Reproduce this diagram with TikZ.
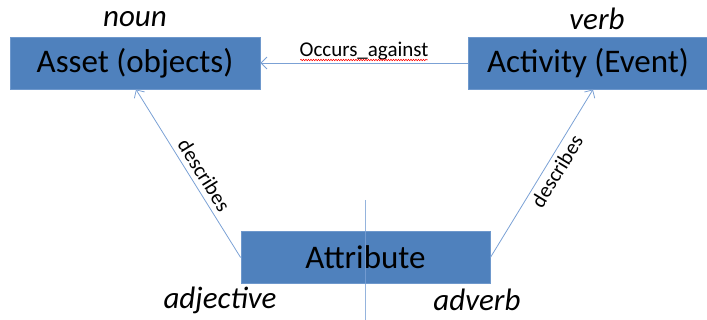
\documentclass[tikz,border=0pt]{standalone}
\usepackage{fontspec}
\setmainfont{Carlito}
\usetikzlibrary{arrows.meta,decorations.pathmorphing}
\definecolor{boxblue}{HTML}{4F81BD}
\definecolor{boxedge}{HTML}{6E98CC}
\definecolor{linkblue}{HTML}{7BA1D5}
\begin{document}
\begin{tikzpicture}[x=1pt,y=-1pt,
  concept/.style={draw=boxedge,line width=0.8pt,fill=boxblue,minimum height=52pt,
    inner sep=0pt,font=\fontsize{33}{38}\selectfont,text=black},
  role/.style={font=\fontsize{31}{36}\selectfont\itshape,text=black},
  linklabel/.style={font=\fontsize{21}{25}\selectfont,text=black,inner sep=1pt},
  link/.style={draw=linkblue,line width=0.8pt,-{Straight Barb[length=6pt,width=12pt,line width=0.8pt]}}]
\useasboundingbox (0,0) rectangle (707,320);
% the three concept boxes
\node[concept,minimum width=250pt] (asset) at (135,63) {Asset (objects)};
\node[concept,minimum width=240pt] (activity) at (588,63) {Activity (Event)};
\node[concept,minimum width=249pt] (attr) at (365.5,257.5) {Attribute};
% grammatical roles
\node[role] (noun) at (135,19) {noun};
\node[role] (verb) at (597,19) {verb};
\node[role] (adj) at (220,300) {adjective};
\node[role] (adv) at (477,300) {adverb};
% dividing line behind the attribute box
\coordinate (divtop) at (365,200);
\coordinate (divbot) at (365,320);
\draw[linkblue,line width=0.8pt,opacity=0.8] (divtop) -- (divbot);
% relations
\coordinate (assetin) at (136,89.5);
\coordinate (actin) at (593,89.5);
\draw[link] (activity.west) -- node[linklabel,above=1pt] (occ) {Occurs\_against} (asset.east);
\draw[red,line width=0.5pt,decorate,decoration={snake,amplitude=0.8pt,segment length=2.5pt}]
  ([yshift=-3pt]occ.base west) ++(2pt,0) -- ([yshift=-3pt,xshift=-2pt]occ.base east);
\draw[link] (attr.west) -- node[linklabel,sloped,above=4pt,pos=0.45] (d1) {describes} (assetin);
\draw[link] (attr.east) -- node[linklabel,sloped,below=3pt,pos=0.55] (d2) {describes} (actin);
\end{tikzpicture}
\end{document}
